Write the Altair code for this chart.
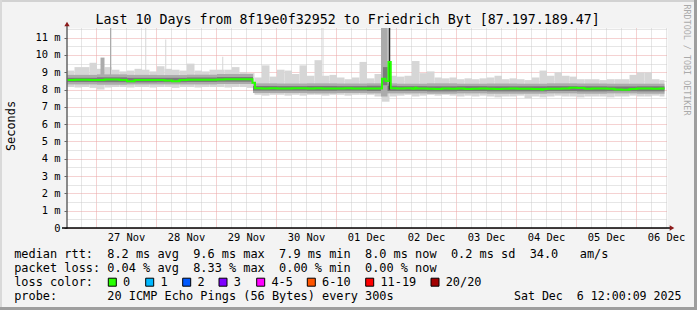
import altair as alt
import pandas as pd

MONO = "DejaVu Sans Mono"
PAD_L, PAD_T, PAD_R, PAD_B = 67, 28, 30, 82
W, H = 600, 200

# ---------------- data (hours after 2025-11-26 12:24, values in ms) ----------------
START = pd.Timestamp("2025-11-26 12:24:00")
DATA_END_H = 239.0
BIN_H = 3

# outer (light) smoke envelope, 3-hour bins
light_hi = [9.1, 9.3, 9.3, 9.55, 9.2, 9.3, 9.15, 9.05, 9.1, 9.2, 9.15, 9.05, 9.35, 9.2, 9.15,
            9.1, 9.5, 9.1, 9.05, 9.15, 9.15, 9.15, 9.3, 9.0, 8.95,
            8.7, 9.4, 8.75, 9.15, 9.1, 8.9, 9.4, 8.8, 9.7, 8.8, 8.85, 8.7, 8.6, 8.7, 9.6,
            8.65, 8.9, 11.56, 8.8, 8.75, 8.8, 9.65, 8.95, 9.05, 8.7, 8.65, 8.7, 8.6, 8.65, 8.6,
            8.65, 8.7, 8.8, 8.6, 8.65, 8.6, 8.55, 8.7, 9.1, 8.8, 9.0, 8.8, 8.75, 8.6, 8.6,
            8.6, 8.55, 8.6, 8.6, 8.6, 8.85, 9.0, 9.0, 8.6, 8.55]
light_lo = [8.15, 8.12, 8.15, 8.1, 8.0, 8.12, 8.15, 8.15, 8.12, 8.15, 8.15, 8.12, 8.15, 8.15, 8.1,
            8.15, 8.15, 8.12, 8.15, 8.15, 8.15, 8.12, 8.15, 8.15, 8.1,
            7.7, 7.65, 7.7, 7.7, 7.65, 7.7, 7.65, 7.7, 7.7, 7.65, 7.7, 7.7, 7.65, 7.7, 7.7,
            7.7, 7.6, 7.3, 7.6, 7.65, 7.7, 7.6, 7.65, 7.7, 7.65, 7.7, 7.65, 7.6, 7.65, 7.6,
            7.65, 7.6, 7.55, 7.6, 7.6, 7.65, 7.5, 7.6, 7.55, 7.6, 7.65, 7.6, 7.6, 7.55, 7.6,
            7.6, 7.6, 7.55, 7.6, 7.6, 7.65, 7.6, 7.6, 7.65, 7.6]

# inner smoke bands (mid / dark grey), segments
band_h0 = [0, 12, 24, 36, 48, 60, 74.4, 84, 96, 108, 120, 132, 144, 156, 168, 180, 192, 204, 216, 228]
band_h1 = [12, 24, 36, 48, 60, 74.4, 84, 96, 108, 120, 132, 144, 156, 168, 180, 192, 204, 216, 228, 239]
mid_lo = [8.30, 8.28, 8.30, 8.30, 8.30, 8.32, 7.80, 7.80, 7.78, 7.80, 7.78, 7.78, 7.76, 7.78, 7.76, 7.76, 7.78, 7.76, 7.78, 7.76]
mid_hi = [8.85, 8.88, 8.85, 8.84, 8.86, 8.90, 8.36, 8.35, 8.36, 8.35, 8.36, 8.34, 8.36, 8.34, 8.35, 8.34, 8.36, 8.35, 8.34, 8.34]
dark_lo = [8.44, 8.43, 8.42, 8.43, 8.44, 8.46, 7.94, 7.94, 7.93, 7.94, 7.92, 7.92, 7.90, 7.92, 7.90, 7.90, 7.92, 7.90, 7.91, 7.90]
dark_hi = [8.68, 8.71, 8.68, 8.68, 8.70, 8.73, 8.21, 8.20, 8.21, 8.20, 8.22, 8.20, 8.19, 8.20, 8.19, 8.19, 8.20, 8.19, 8.18, 8.19]

# narrow spikes of the slowest pings
spike_h0 = [13.4, 17.2, 31.3, 39.3, 62.1, 102.2]
spike_h1 = [15.0, 17.6, 31.7, 39.7, 62.5, 102.6]
spike_lo = [8.6, 8.6, 8.6, 8.6, 8.6, 8.1]
spike_hi = [9.85, 11.56, 11.56, 10.9, 9.9, 11.56]
spike_level = [2, 2, 1, 1, 1, 1]

# 01 Dec disturbance
event_h0 = [125.6, 126.4, 128.7]
event_h1 = [128.2, 128.2, 129.3]
event_lo = [7.6, 8.25, 8.0]
event_hi = [11.56, 9.3, 11.56]
event_level = [2, 3, 4]

# median rtt
med_hour = [0, 3, 6, 9, 12, 15, 18, 21, 24, 27, 30, 33, 36, 39, 42, 45, 48, 51, 54, 57, 60, 63, 66, 69, 72,
            74.2, 75.2,
            78, 81, 84, 87, 90, 93, 96, 99, 102, 105, 108, 111, 114, 117, 120, 123,
            126, 127.4, 128.6, 129.5,
            132, 135, 138, 139.1, 139.8, 141,
            144, 147, 150, 153, 156, 159, 162, 165, 168, 171, 174, 177, 180, 183, 186, 189,
            189.7, 190.5,
            192, 195, 198, 201, 204, 207, 210, 213, 216, 219, 222, 225, 228, 231, 234, 237, 239]
med_ms = [8.55, 8.57, 8.57, 8.55, 8.55, 8.58, 8.58, 8.55, 8.48, 8.55, 8.55, 8.55, 8.55, 8.53, 8.48,
          8.55, 8.57, 8.57, 8.57, 8.57, 8.58, 8.60, 8.60, 8.60, 8.60,
          8.40, 8.08,
          8.07, 8.08, 8.07, 8.06, 8.08, 8.08, 8.07, 8.08, 8.07, 8.06, 8.07, 8.08, 8.07, 8.07, 8.07, 8.07,
          8.63, 8.50, 9.60, 8.08,
          8.07, 8.08, 8.05, 8.10, 8.07, 8.06,
          8.05, 8.04, 8.06, 8.05, 8.07, 8.04, 8.05, 8.06, 8.05, 8.04, 8.05, 8.06, 8.05, 8.05, 8.04, 8.04,
          7.99, 8.03,
          8.05, 8.05, 8.06, 8.10, 8.09, 8.05, 8.07, 8.06, 8.05, 8.00, 7.99, 8.04, 8.06, 8.06, 8.05, 8.06, 8.06]
loss_hour = [127.4, 128.6, 139.1, 189.7]
loss_count = [1, 1, 1, 1]

loss_labels = ["0", "1", "2", "3", "4-5", "6-10", "11-19", "20/20"]
loss_upper = [0, 1, 2, 3, 5, 10, 19, 20]
loss_colors = ["#26ff00", "#00b8ff", "#0059ff", "#7e00ff", "#ff00ff", "#ff5500", "#ff0000", "#a10000"]

title_text = "Last 10 Days from 8f19e0f32952 to Friedrich Byt [87.197.189.47]"
legend_rows = [
    "median rtt:  8.2 ms avg  9.6 ms max  7.9 ms min  8.0 ms now  0.2 ms sd  34.0   am/s",
    "packet loss: 0.04 % avg  8.33 % max  0.00 % min  0.00 % now",
    "loss color:",
    "probe:       20 ICMP Echo Pings (56 Bytes) every 300s",
]
stamp_text = "Sat Dec  6 12:00:09 2025"
side_text = "RRDTOOL / TOBI OETIKER"

# ---------------- tables ----------------
def ts(h):
    return (START + pd.to_timedelta(h, unit="h")).strftime("%Y-%m-%dT%H:%M:%S")

rows = []
for i, (lo, hi) in enumerate(zip(light_lo, light_hi)):
    h0 = i * BIN_H
    h1 = min(h0 + BIN_H, DATA_END_H)
    rows.append((h0, h1, lo, hi, 1))
for h0, h1, lo, hi, lv in zip(spike_h0, spike_h1, spike_lo, spike_hi, spike_level):
    if lv == 1:
        rows.append((h0, h1, lo, hi, lv))
for h0, h1, lo, hi in zip(band_h0, band_h1, mid_lo, mid_hi):
    rows.append((h0, h1, lo, hi, 2))
for h0, h1, lo, hi, lv in zip(spike_h0, spike_h1, spike_lo, spike_hi, spike_level):
    if lv == 2:
        rows.append((h0, h1, lo, hi, lv))
for h0, h1, lo, hi in zip(band_h0, band_h1, dark_lo, dark_hi):
    rows.append((h0, h1, lo, hi, 3))
for h0, h1, lo, hi, lv in sorted(zip(event_h0, event_h1, event_lo, event_hi, event_level), key=lambda r: r[4]):
    rows.append((h0, h1, lo, hi, lv))
smoke = pd.DataFrame(rows, columns=["h0", "h1", "v", "v2", "level"])
smoke["t"] = smoke["h0"].map(ts)
smoke["t2"] = smoke["h1"].map(ts)

med = pd.DataFrame({"t": [ts(h) for h in med_hour], "v": med_ms})

seg = []
for h, c in zip(loss_hour, loss_count):
    i = med_hour.index(h)
    lab = next(l for l, u in zip(loss_labels, loss_upper) if c <= u)
    seg.append({"t": ts(h), "t2": ts(med_hour[i + 1]), "v": med_ms[i], "loss": lab})
lossdf = pd.DataFrame(seg)

one = pd.DataFrame({"k": [0]})

# ---------------- scales / axes ----------------
MAJOR = "#eba4a4"
MINOR = "#cdcdcd"
X_SCALE = alt.Scale(domain=[alt.DateTime(year=2025, month=11, date=26, hours=12, minutes=24),
                            alt.DateTime(year=2025, month=12, date=6, hours=12, minutes=24)])
Y_SCALE = alt.Scale(domain=[0, 11.56], nice=False, zero=True)

tick_vals = [alt.DateTime(year=d.year, month=d.month, date=d.day, hours=d.hour)
             for d in pd.date_range("2025-11-26 18:00", "2025-12-06 12:00", freq="6h")]

x_axis = alt.Axis(
    values=tick_vals, title=None, domain=False, ticks=False, grid=True,
    labelExpr="hours(datum.value) == 12 ? timeFormat(datum.value, '%d %b') : ''",
    labelFont=MONO, labelFontSize=10.4, labelColor="#000", labelPadding=4,
    labelOverlap=False, labelBound=False, labelFlush=False,
    gridColor={"condition": {"test": "hours(datum.value) == 0", "value": MAJOR}, "value": MINOR},
    gridDash=[1, 1], gridWidth=1, gridOpacity=1,
)
y_axis = alt.Axis(
    values=[i * 0.5 for i in range(24)], title="Seconds",
    titleFont=MONO, titleFontSize=11.9, titleFontWeight="normal", titleColor="#000",
    titleAngle=270, titleX=-57, titleY=97.5, titleAlign="center", titleBaseline="middle",
    labelExpr="datum.value % 1 == 0 ? (datum.value == 0 ? '0\u00a0\u00a0' : datum.value + ' m') : ''",
    labelFont=MONO, labelFontSize=10.4, labelColor="#000", labelPadding=4,
    tickSize=3, tickColor={"condition": {"test": "datum.value % 1 == 0", "value": "#666"}, "value": "transparent"},
    domain=False, grid=True,
    gridColor={"condition": {"test": "datum.value % 1 == 0", "value": MAJOR}, "value": MINOR},
    gridDash=[1, 1], gridWidth=1, gridOpacity=1,
)

X = alt.X("t:T", scale=X_SCALE, axis=x_axis)
Y = alt.Y("v:Q", scale=Y_SCALE, axis=y_axis)

smoke_layer = alt.Chart(smoke).mark_rect(strokeWidth=0).encode(
    x=X, x2="t2:T", y=Y, y2="v2:Q",
    color=alt.Color("level:O", scale=alt.Scale(domain=[1, 2, 3, 4],
                                               range=["#d6d6d6", "#ababab", "#7a7a7a", "#2a2a2a"]),
                    legend=None),
)
median_layer = alt.Chart(med).mark_line(interpolate="step-after", color=loss_colors[0], strokeWidth=2).encode(
    x=X, y=Y)
loss_layer = alt.Chart(lossdf).mark_rule(strokeWidth=3.5).encode(
    x=X, x2="t2:T", y=Y,
    color=alt.Color("loss:N", scale=alt.Scale(domain=loss_labels, range=loss_colors), legend=None),
)

layers = [smoke_layer, median_layer, loss_layer]

# axis lines and arrows
layers.append(alt.Chart(one).mark_rule(color="#666", strokeWidth=1.5).encode(
    x=alt.value(0), y=alt.value(H), y2=alt.value(-3)))
layers.append(alt.Chart(one).mark_rule(color="#000", strokeWidth=1.5).encode(
    x=alt.value(-5), x2=alt.value(W + 3), y=alt.value(H)))
layers.append(alt.Chart(one).mark_point(shape="triangle-up", filled=True, size=28, color="#8b1a1a", opacity=1).encode(
    x=alt.value(0), y=alt.value(-4)))
layers.append(alt.Chart(one).mark_point(shape="triangle-right", filled=True, size=28, color="#8b1a1a", opacity=1).encode(
    x=alt.value(W + 5), y=alt.value(H)))

# frame
FW, FH = W + PAD_L + PAD_R, H + PAD_T + PAD_B
def frame(x0, x1, y0, y1, c):
    return alt.Chart(one).mark_rect(color=c).encode(
        x=alt.value(x0 - PAD_L), x2=alt.value(x1 - PAD_L), y=alt.value(y0 - PAD_T), y2=alt.value(y1 - PAD_T))
layers += [frame(0, FW, 0, 2, "#d2d2d2"), frame(0, 2, 0, FH, "#d9d9d9"),
           frame(0, FW, FH - 3, FH, "#9e9e9e"), frame(FW - 3, FW, 0, FH, "#9e9e9e")]

def txt(s, x, y, size=11.9, align="left", color="#000", angle=None, baseline="alphabetic"):
    kw = dict(text=s.replace(" ", "\u00a0"), font=MONO, fontSize=size, align=align,
              baseline=baseline, color=color)
    if angle is not None:
        kw["angle"] = angle
    return alt.Chart(one).mark_text(**kw).encode(x=alt.value(x - PAD_L), y=alt.value(y - PAD_T))

layers.append(txt(title_text, 95.5, 24, size=13.3))
LX = 14.2
for row, base in zip(legend_rows, [258, 272, 285.8, 299.6]):
    layers.append(txt(row, LX, base))
layers.append(txt(stamp_text, 681.5, 299.6, size=11.6, align="right"))
layers.append(txt(side_text, 687, 60, size=8.4, align="center", color="#aaaaaa", angle=90, baseline="middle"))

box_px = [108.3, 145.7, 182.7, 219.0, 256.7, 307.3, 365.7, 431.0]
for bx, lab, col in zip(box_px, loss_labels, loss_colors):
    layers.append(alt.Chart(one).mark_rect(color=col, stroke="#000", strokeWidth=1).encode(
        x=alt.value(bx - PAD_L), x2=alt.value(bx + 8 - PAD_L), y=alt.value(278.2 - PAD_T), y2=alt.value(286.2 - PAD_T)))
    layers.append(txt(lab, bx + 14.7, 285.8))

chart = alt.layer(*layers).properties(
    width=W, height=H,
    autosize=alt.AutoSizeParams(type="none"),
    padding={"left": PAD_L, "top": PAD_T, "right": PAD_R, "bottom": PAD_B},
    background="#f3f3f3",
).configure_view(fill="white", stroke="transparent")

chart.save("out.html", embed_options={"renderer": "svg", "actions": False})
